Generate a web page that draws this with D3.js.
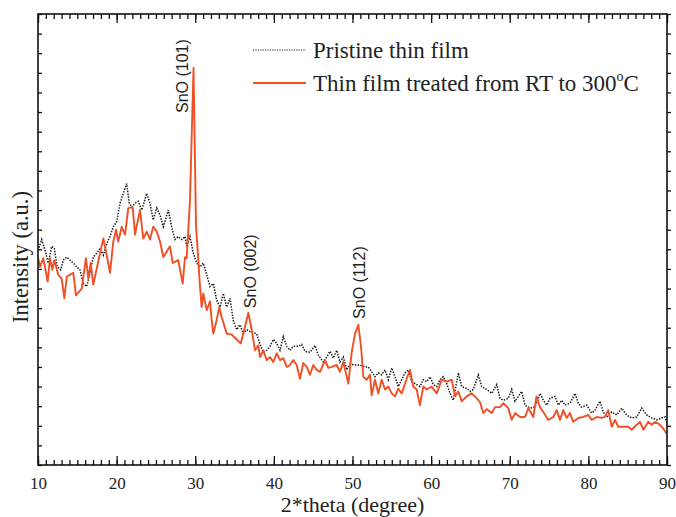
<!DOCTYPE html>
<html>
<head>
<meta charset="utf-8">
<script src="https://cdn.jsdelivr.net/npm/d3@7"></script>
<style>
  body { margin: 0; background: #fff; }
</style>
</head>
<body>
<div id="target"></div>
<script>
const width = 676,
  height = 517;

// 2*theta positions and intensities
const treatedTheta = [
  10.0,10.25,10.67,11.23,11.53,11.82,12.07,12.58,13.01,13.35,
  13.65,14.49,14.83,15.56,16.1,16.4,16.7,17.03,17.89,18.31,
  18.74,19.16,19.58,19.92,20.21,20.65,21.07,21.48,22.04,22.34,
  22.97,23.39,23.83,24.24,24.66,25.1,25.52,25.94,26.79,27.13,
  27.84,28.4,28.7,28.91,29.33,29.78,30.1,30.39,30.6,30.82,
  31.02,31.46,31.88,32.09,32.3,32.64,33.06,33.36,34.0,34.64,
  35.27,35.78,36.33,36.75,37.18,37.6,38.02,38.24,38.66,39.09,
  39.51,39.93,40.36,40.78,41.2,41.63,42.05,42.47,42.9,43.32,
  43.74,44.18,44.6,45.01,45.45,45.87,46.5,46.92,47.35,47.99,
  48.41,48.83,49.47,49.9,50.32,50.74,51.08,51.38,51.8,52.22,
  52.44,52.86,53.28,53.71,54.13,54.55,54.99,55.41,55.83,56.26,
  56.89,57.31,57.73,58.16,58.58,59.0,59.44,60.07,60.71,61.34,
  61.98,62.62,63.04,63.46,63.89,64.53,65.16,65.58,66.22,66.64,
  67.07,67.71,68.13,68.76,69.18,69.82,70.25,70.67,71.3,71.94,
  72.36,73.0,73.4,73.85,74.27,74.9,75.54,75.97,76.39,76.81,
  77.24,77.66,78.08,78.72,79.35,79.99,80.42,81.06,81.69,82.11,
  82.53,82.97,83.39,83.81,84.45,85.08,85.51,86.15,86.57,86.99,
  87.63,88.05,88.47,89.11,89.53,89.96
];
const treatedIntensity = [
  212,202,211,187,211,199,209,194,190,170,
  192,196,173,180,211,190,206,184,216,231,
  214,196,228,240,228,243,235,262,263,235,
  260,231,238,230,243,238,228,212,223,206,
  209,185,212,211,270,405,243,209,182,161,
  175,158,167,148,134,145,161,151,134,133,
  128,124,141,155,138,117,122,110,117,107,
  110,105,114,107,109,100,102,107,102,88,
  104,100,92,102,97,95,107,99,100,102,
  95,105,83,115,134,143,121,90,87,92,
  71,87,73,87,77,80,73,70,78,73,
  88,97,80,77,61,80,77,80,73,87,
  85,87,70,75,65,70,73,70,64,53,
  57,53,59,59,63,58,46,53,49,49,
  58,49,70,59,54,46,49,56,46,56,
  48,53,44,48,49,51,46,49,48,49,
  56,39,46,39,39,39,36,41,44,36,
  44,41,44,41,37,32
];

const pristineTheta = [
  10.0,10.47,10.89,11.31,11.74,12.07,12.45,12.89,13.22,13.65,
  14.07,14.49,14.92,15.34,15.76,16.19,16.61,17.03,17.47,17.89,
  18.31,18.74,19.16,19.58,20.01,20.43,20.85,21.28,21.61,21.92,
  22.34,22.76,23.19,23.83,24.24,24.66,25.1,25.52,25.94,26.57,
  27.0,27.42,27.84,28.28,28.7,28.91,29.33,29.75,30.18,30.6,
  31.02,31.46,31.88,32.3,32.73,33.15,33.57,34.0,34.42,34.84,
  35.27,35.69,36.11,36.54,36.96,37.38,37.81,38.24,38.66,39.09,
  39.51,39.93,40.36,40.78,41.2,41.63,42.05,42.47,43.11,43.54,
  43.96,44.6,45.23,45.65,46.29,46.72,47.14,47.56,47.99,48.41,
  48.83,49.26,49.68,50.32,50.95,51.59,52.01,52.44,52.86,53.28,
  53.71,54.13,54.55,54.99,55.41,55.83,56.26,56.68,57.1,57.53,
  57.95,58.58,59.0,59.44,59.86,60.28,60.71,61.13,61.55,61.98,
  62.4,62.82,63.46,63.89,64.53,64.95,65.37,66.0,66.43,67.07,
  67.71,68.34,68.76,69.18,69.82,70.25,70.67,71.52,71.94,72.58,
  73.21,73.85,74.27,74.7,75.12,75.76,76.18,76.61,77.03,77.66,
  78.3,78.72,79.15,79.79,80.42,80.84,81.48,81.9,82.33,82.97,
  83.6,84.24,84.87,85.51,86.15,86.78,87.42,88.05,88.69,89.33,
  89.75,90.0
];
const pristineIntensity = [
  219,230,219,206,223,221,202,199,209,212,
  209,206,202,199,185,182,196,212,216,221,
  214,226,233,243,248,267,277,287,267,263,
  267,269,260,277,267,250,262,255,243,260,
  243,230,233,230,233,223,233,216,206,202,
  206,194,182,185,168,161,175,161,170,147,
  138,143,134,138,136,135,134,123,115,117,
  121,128,124,117,131,121,117,121,121,123,
  116,115,122,112,105,110,116,109,117,105,
  110,97,103,102,102,100,100,95,90,94,
  92,97,87,99,90,80,87,94,97,85,
  83,80,87,85,90,82,80,87,90,83,
  73,66,94,80,78,75,77,92,80,77,
  73,82,68,66,68,77,65,75,61,58,
  59,73,66,61,68,70,61,66,61,63,
  73,63,59,61,53,56,65,54,49,54,
  51,58,51,48,49,58,51,48,46,48,
  49,43
];

const xTicks = [10, 20, 30, 40, 50, 60, 70, 80, 90];
const seriesNames = ["Pristine thin film", "Thin film treated from RT to 300"];

const peakNames = ["SnO (101)", "SnO (002)", "SnO (112)"];
const peakTheta = [28.35, 37.0, 50.85];
const peakIntensity = [359, 160, 149];

const red = "#ef5026";

const x = d3.scaleLinear().domain([10, 90]).range([38, 667]);
const y = d3.scaleLinear().domain([0, 460]).range([465, 14]);

const svg = d3.select("#target").append("svg")
  .attr("width", width)
  .attr("height", height)
  .style("font-family", "'Liberation Serif', 'Times New Roman', serif");

const line = d3.line()
  .x(d => x(d[0]))
  .y(d => y(d[1]));

svg.append("defs").append("clipPath").attr("id", "plot")
  .append("rect")
  .attr("x", x(10)).attr("y", y(460))
  .attr("width", x(90) - x(10)).attr("height", y(0) - y(460));

const plot = svg.append("g").attr("clip-path", "url(#plot)");

plot.append("path")
  .datum(d3.zip(pristineTheta, pristineIntensity))
  .attr("fill", "none")
  .attr("stroke", "#111")
  .attr("stroke-width", 1.5)
  .attr("stroke-dasharray", "1.4,1.4")
  .attr("d", line);

plot.append("path")
  .datum(d3.zip(treatedTheta, treatedIntensity))
  .attr("fill", "none")
  .attr("stroke", red)
  .attr("stroke-width", 1.9)
  .attr("stroke-linejoin", "round")
  .attr("d", line);

// axes: major + minor ticks on all four sides
function clean(g) {
  g.select(".domain").remove();
  g.selectAll("line").attr("stroke", "#111").attr("stroke-width", 1.3);
}

svg.append("g")
  .attr("transform", `translate(0,${y(0)})`)
  .call(d3.axisBottom(x).tickValues(d3.range(10, 91, 1)).tickSize(-5).tickFormat(""))
  .call(clean);

svg.append("g")
  .attr("transform", `translate(0,${y(0)})`)
  .call(d3.axisBottom(x).tickValues(xTicks).tickSize(-9).tickPadding(12).tickFormat(d3.format("d")))
  .call(clean)
  .call(g => g.selectAll("text")
    .attr("fill", "#222")
    .style("font-family", "'Liberation Serif', serif")
    .style("font-size", "17px"));

svg.append("g")
  .attr("transform", `translate(0,${y(460)})`)
  .call(d3.axisTop(x).tickValues(d3.range(10, 91, 1)).tickSize(-5).tickFormat(""))
  .call(clean);

svg.append("g")
  .attr("transform", `translate(0,${y(460)})`)
  .call(d3.axisTop(x).tickValues(xTicks).tickSize(-9).tickFormat(""))
  .call(clean);

svg.append("g")
  .attr("transform", `translate(${x(10)},0)`)
  .call(d3.axisLeft(y).tickValues(d3.range(0, 461, 20)).tickSize(-4).tickFormat(""))
  .call(clean);

svg.append("g")
  .attr("transform", `translate(${x(90)},0)`)
  .call(d3.axisRight(y).tickValues(d3.range(0, 461, 20)).tickSize(4).tickFormat(""))
  .call(clean);

svg.append("rect")
  .attr("x", x(10)).attr("y", y(460))
  .attr("width", x(90) - x(10)).attr("height", y(0) - y(460))
  .attr("fill", "none")
  .attr("stroke", "#111")
  .attr("stroke-width", 1.6);

// axis titles
svg.append("text")
  .attr("x", (x(10) + x(90)) / 2)
  .attr("y", 512)
  .attr("text-anchor", "middle")
  .attr("fill", "#222")
  .style("font-size", "22px")
  .text("2*theta (degree)");

svg.append("text")
  .attr("transform", "translate(28,257) rotate(-90)")
  .attr("text-anchor", "middle")
  .attr("fill", "#222")
  .style("font-size", "22.5px")
  .text("Intensity (a.u.)");

// peak labels
svg.selectAll(".peak")
  .data(peakNames)
  .enter()
  .append("text")
  .attr("class", "peak")
  .attr("transform", (d, i) => `translate(${x(peakTheta[i])},${y(peakIntensity[i])}) rotate(-90)`)
  .attr("dy", "0.36em")
  .attr("fill", "#222")
  .style("font-family", "'Liberation Sans', Arial, sans-serif")
  .style("font-size", "16px")
  .text(d => d);

// legend
const legend = svg.append("g").attr("transform", "translate(253,50)");

legend.append("line")
  .attr("x1", 0).attr("x2", 53).attr("y1", 0).attr("y2", 0)
  .attr("stroke", "#222").attr("stroke-width", 1.2).attr("stroke-dasharray", "1.2,1.2");

legend.append("line")
  .attr("x1", 0).attr("x2", 53).attr("y1", 33).attr("y2", 33)
  .attr("stroke", red).attr("stroke-width", 1.8);

legend.append("text")
  .attr("x", 60).attr("y", 8)
  .attr("fill", "#222")
  .style("font-size", "23px")
  .text(seriesNames[0]);

const t2 = legend.append("text")
  .attr("x", 60).attr("y", 41)
  .attr("fill", "#222")
  .style("font-size", "23px")
  .text(seriesNames[1]);
t2.append("tspan").attr("dy", -10).style("font-size", "14px").text("o");
t2.append("tspan").attr("dy", 10).text("C");
</script>
</body>
</html>
